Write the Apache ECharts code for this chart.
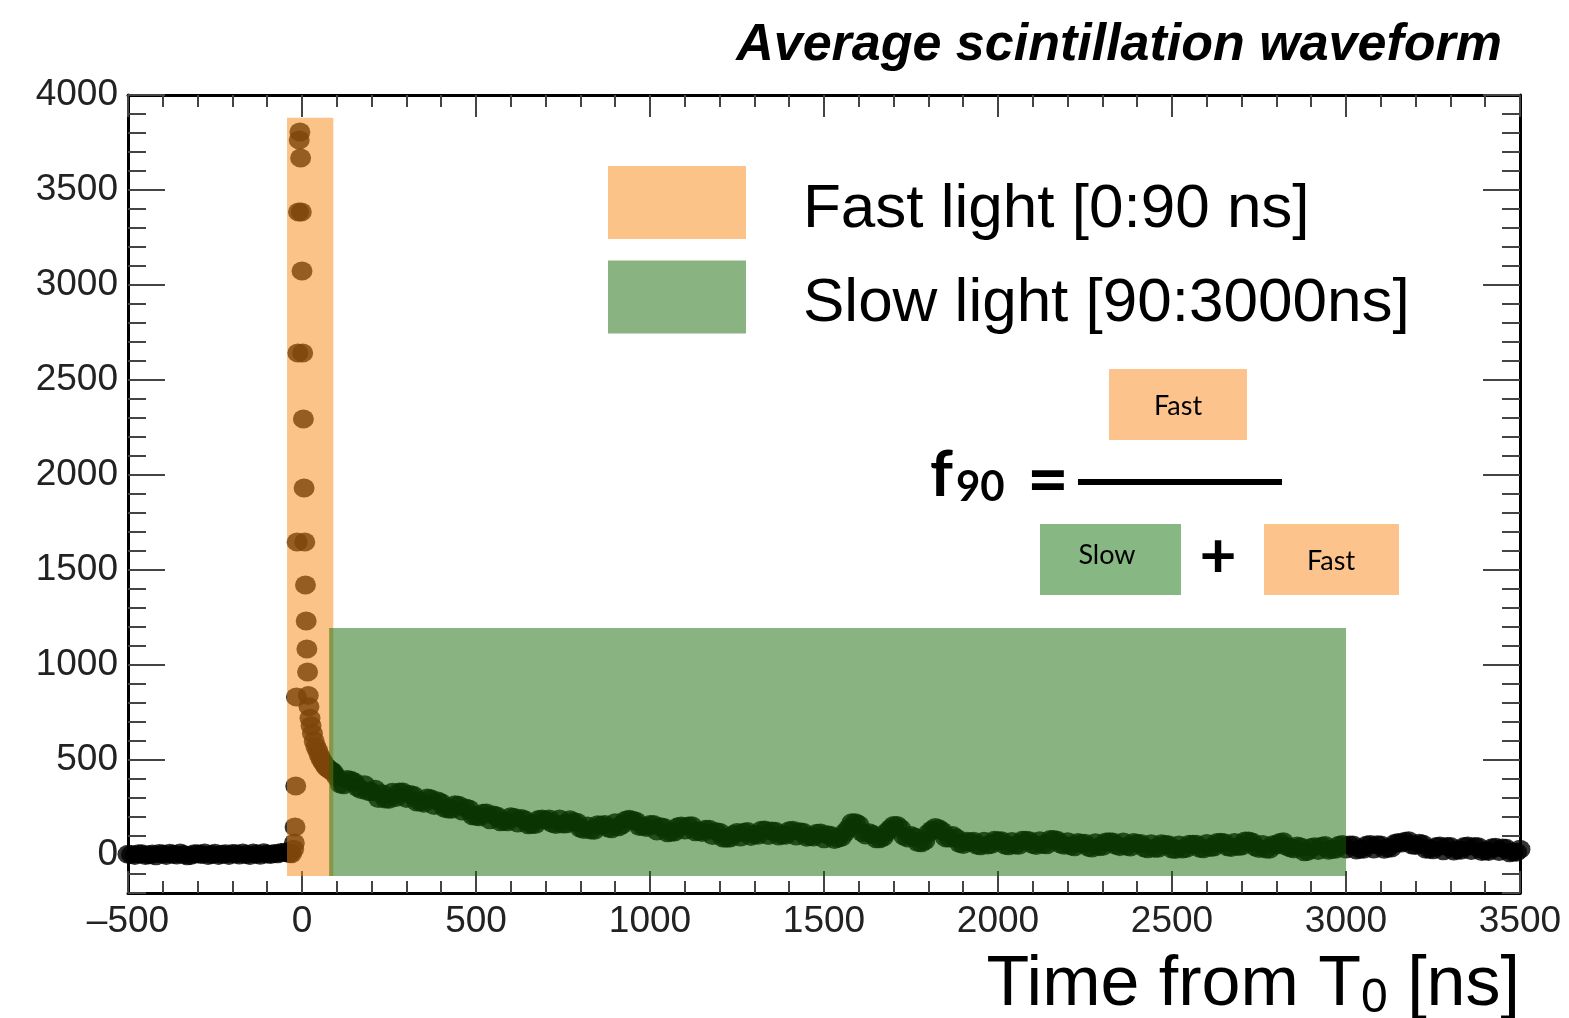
<!DOCTYPE html>
<html>
<head>
<meta charset="utf-8">
<script src="https://cdn.jsdelivr.net/npm/echarts@6/dist/echarts.min.js"></script>
<style>
  html, body { margin: 0; padding: 0; background: #fff; }
  #chart { width: 1569px; height: 1018px; }
</style>
</head>
<body>
<div id="chart"></div>
<script>
// waveform samples: [time ns, amplitude]
const baseline = [[-500,4],[-480,-2],[-460,6],[-440,1],[-420,-4],[-400,5],[-380,9],[-360,0],[-340,3],[-320,-3],
  [-300,7],[-280,11],[-260,2],[-240,-2],[-220,6],[-200,8],[-180,0],[-160,3],[-140,10],[-120,-1],[-100,5],[-80,8],
  [-60,13],[-40,10],[-30,6]];

const baselineOdd = [[-490,2],[-470,7],[-450,-3],[-430,5],[-410,8],[-390,-2],[-370,4],[-350,10],[-330,-4],[-310,6],
  [-290,3],[-270,-3],[-250,9],[-230,4],[-210,-2],[-190,7],[-170,10],[-150,-3],[-130,5],[-110,12],[-90,2],[-70,6],
  [-50,15],[-35,8]];

const fastPulse = [[-24,30],[-22,63],[-20,147],[-18,363],[-16,832],[-14,1647],[-12,2642],[-10,3384],[-8,3763],
  [-6,3805],[-4,3668],[-2,3384],[0,3074],[2,2642],[4,2295],[6,1932],[8,1647],[10,1421],[12,1232],[14,1084],[16,963],
  [18,840],[20,780],[23,720],[26,680],[30,640],[35,600],[40,570],[45,550],[50,525],[55,505],[60,490],[65,475],
  [70,462],[75,455],[80,448],[85,442],[90,435]];

const slowTail = [[100,410],[120,370],[140,393],[160,355],[180,370],[200,333],[220,297],[240,295],[260,330],[280,331],
  [300,298],[320,314],[340,280],[360,300],[380,261],[400,275],[420,242],[440,264],[460,232],[480,242],
  [500,204],[520,220],[540,186],[560,205],[580,179],[600,201],[620,168],[640,185],[660,160],[680,187],
  [700,183],[720,166],[740,190],[760,164],[780,175],[800,141],[820,153],[840,130],[860,157],[880,142],
  [900,170],[920,159],[940,188],[960,178],[980,151],[1000,160],[1020,126],[1040,145],[1060,120],[1080,149],
  [1100,132],[1120,154],[1140,125],[1160,135],[1180,103],[1200,120],[1220,88],[1240,108],[1260,95],[1280,124],
  [1300,108],[1320,130],[1340,102],[1360,125],[1380,107],[1400,128],[1420,100],[1440,120],[1460,98],[1480,115],
  [1500,85],[1520,103],[1540,88],[1560,118],[1580,170],[1600,160],[1620,105],[1640,108],[1660,86],[1680,120],
  [1700,155],[1720,140],[1740,90],[1760,95],[1780,64],[1800,115],[1820,145],[1840,125],[1860,90],[1880,90],
  [1900,55],[1920,68],[1940,51],[1960,73],[1980,55],[2000,75],[2020,53],[2040,71],[2060,51],[2080,77],
  [2100,55],[2120,75],[2140,54],[2160,82],[2180,58],[2200,70],[2220,43],[2240,60],[2260,40],[2280,64],
  [2300,45],[2320,70],[2340,50],[2360,68],[2380,42],[2400,60],[2420,38],[2440,59],[2460,36],[2480,55],
  [2500,32],[2520,53],[2540,34],[2560,56],[2580,36],[2600,60],[2620,42],[2640,67],[2660,43],[2680,66],
  [2700,47],[2720,74],[2740,42],[2760,55],[2780,30],[2800,52],[2820,70],[2840,38],[2860,48],[2880,17],
  [2900,40],[2920,24],[2940,50],[2960,30],[2980,51],[3000,32],[3020,53],[3040,32],[3060,53],[3080,32],
  [3100,53],[3120,37],[3140,60],[3160,63],[3180,75],[3200,50],[3220,58],[3240,32],[3260,45],[3280,22],
  [3300,45],[3320,27],[3340,45],[3360,24],[3380,43],[3400,22],[3420,38],[3440,18],[3460,35],[3480,16],[3500,30]];

const slowTailOdd = [[110,374],[130,398],[150,384],[170,344],[190,334],[210,346],[230,322],[250,293],[270,302],[290,331],
  [310,319],[330,279],[350,273],[370,296],[390,284],[410,246],[430,241],[450,262],[470,248],[490,206],
  [510,201],[530,221],[550,211],[570,175],[590,175],[610,198],[630,192],[650,159],[670,161],[690,189],
  [710,190],[730,161],[750,163],[770,186],[790,172],[810,134],[830,131],[850,159],[870,161],[890,138],
  [910,149],[930,183],[950,183],[970,150],[990,145],[1010,161],[1030,149],[1050,117],[1070,121],[1090,153],
  [1110,153],[1130,122],[1150,118],[1170,136],[1190,123],[1210,89],[1230,89],[1250,118],[1270,120],[1290,98],
  [1310,104],[1330,131],[1350,126],[1370,100],[1390,104],[1410,130],[1430,123],[1450,94],[1470,95],[1490,116],
  [1510,107],[1530,81],[1550,93],[1570,140],[1590,170],[1610,118],[1630,117],[1650,86],[1670,93],[1690,138],
  [1710,155],[1730,98],[1750,102],[1770,66],[1790,75],[1810,132],[1830,138],[1850,90],[1870,102],[1890,61],
  [1910,72],[1930,72],[1950,49],[1970,53],[1990,77],[2010,75],[2030,49],[2050,53],[2070,77],[2090,75],
  [2110,50],[2130,55],[2150,81],[2170,78],[2190,51],[2210,48],[2230,66],[2250,62],[2270,37],[2290,44],
  [2310,69],[2330,69],[2350,44],[2370,46],[2390,66],[2410,61],[2430,33],[2450,36],[2470,59],[2490,54],
  [2510,29],[2530,32],[2550,57],[2570,57],[2590,33],[2610,39],[2630,66],[2650,65],[2670,39],[2690,45],
  [2710,74],[2730,68],[2750,34],[2770,32],[2790,54],[2810,66],[2830,45],[2850,33],[2870,42],[2890,19],
  [2910,44],[2930,46],[2950,25],[2970,30],[2990,55],[3010,53],[3030,26],[3050,30],[3070,55],[3090,54],
  [3110,30],[3130,37],[3150,66],[3170,72],[3190,52],[3210,62],[3230,30],[3250,28],[3270,47],[3290,45],
  [3310,21],[3330,25],[3350,48],[3370,45],[3390,18],[3410,19],[3430,41],[3450,37],[3470,12],[3490,15]];

// integration windows: [tStart, tEnd, yLow, yHigh]
const fastWindow = [-43, 90, -110, 3880];
const slowWindow = [78, 3000, -110, 1195];

const yMajorTicks = [0, 500, 1000, 1500, 2000, 2500, 3000, 3500, 4000];
const legendNames = ['Fast light [0:90 ns]', 'Slow light [90:3000ns]'];

const FAST_COLOR = 'rgba(250,135,20,0.5)';
const SLOW_COLOR = 'rgba(20,105,5,0.5)';
const FONT = 'Liberation Sans';

const chart = echarts.init(document.getElementById('chart'));

function bandItem(color) {
    return function (params, api) {
        const p0 = api.coord([api.value(0), api.value(3)]);
        const p1 = api.coord([api.value(1), api.value(2)]);
        return {
            type: 'rect',
            shape: { x: p0[0], y: p0[1], width: p1[0] - p0[0], height: p1[1] - p0[1] },
            style: { fill: color }
        };
    };
}

const tickStyle = { color: '#444', width: 2 };
const lineStyle = { color: '#000', width: 3 };

function xAxisDef(pos, showLabel) {
    return {
        type: 'value', position: pos, min: -500, max: 3500, interval: 500,
        axisLine: { show: true, onZero: false, lineStyle: lineStyle },
        axisTick: { show: true, inside: true, length: 22, lineStyle: tickStyle },
        minorTick: { show: true, splitNumber: 5, length: 12, lineStyle: tickStyle },
        splitLine: { show: false },
        minorSplitLine: { show: false },
        axisLabel: {
            show: showLabel, fontSize: 37, fontFamily: FONT, color: '#222', margin: 10,
            formatter: v => v < 0 ? '\u2013' + Math.abs(v) : String(v)
        }
    };
}

function yAxisMajor(pos, showLabel) {
    return {
        type: 'value', position: pos, min: -200, max: 4000,
        axisLine: { show: true, onZero: false, lineStyle: lineStyle },
        axisTick: { show: true, inside: true, length: 37, customValues: yMajorTicks, lineStyle: tickStyle },
        splitLine: { show: false },
        axisLabel: {
            show: showLabel, customValues: yMajorTicks, fontSize: 37, fontFamily: FONT,
            color: '#222', margin: 10, formatter: v => String(v)
        }
    };
}

function yAxisMinor(pos) {
    return {
        type: 'value', position: pos, min: -200, max: 4000, interval: 100,
        axisLine: { show: false, onZero: false },
        axisTick: { show: true, inside: true, length: 18, lineStyle: tickStyle },
        splitLine: { show: false },
        axisLabel: { show: false }
    };
}

const options = {
    backgroundColor: '#fff',
    animation: false,
    title: {
        text: 'Average scintillation waveform',
        right: 62, top: 15,
        textStyle: { fontFamily: FONT, fontSize: 52, fontStyle: 'italic', fontWeight: 'bold', color: '#000' }
    },
    legend: {
        data: legendNames,
        orient: 'vertical', left: 608, top: 166, padding: 0,
        itemWidth: 138, itemHeight: 73, itemGap: 20, icon: 'rect',
        selectedMode: false,
        formatter: name => '{t|' + name + '}',
        textStyle: {
            fontFamily: FONT, fontSize: 62, color: '#000',
            rich: { t: { fontFamily: FONT, fontSize: 62, color: '#000', padding: [14, 0, 0, 52] } }
        }
    },
    grid: { left: 128, right: 49, top: 95, bottom: 125, outerBoundsMode: 'none', containLabel: false },
    xAxis: [
        Object.assign(xAxisDef('bottom', true), {
            name: 'Time from T{sub|0} [ns]',
            nameLocation: 'end', nameGap: 0,
            nameTextStyle: {
                fontFamily: FONT, fontSize: 70, color: '#000',
                align: 'right', verticalAlign: 'top', padding: [56, 0, 0, 0],
                rich: { sub: { fontFamily: FONT, fontSize: 48, color: '#000', padding: [26, 0, 0, 0] } }
            }
        }),
        xAxisDef('top', false)
    ],
    yAxis: [
        yAxisMajor('left', true),
        yAxisMinor('left'),
        yAxisMajor('right', false),
        yAxisMinor('right')
    ],
    series: [
        {
            name: 'waveform', type: 'scatter', z: 2,
            symbol: 'circle', symbolSize: [21, 19],
            itemStyle: { color: '#000' },
            data: baseline.concat(baselineOdd, fastPulse, slowTail, slowTailOdd)
        },
        {
            name: legendNames[0], type: 'custom', z: 5,
            itemStyle: { color: FAST_COLOR },
            encode: { x: [0, 1], y: [2, 3] },
            renderItem: bandItem(FAST_COLOR),
            data: [fastWindow]
        },
        {
            name: legendNames[1], type: 'custom', z: 5,
            itemStyle: { color: SLOW_COLOR },
            encode: { x: [0, 1], y: [2, 3] },
            renderItem: bandItem(SLOW_COLOR),
            data: [slowWindow]
        }
    ],
    graphic: [
        { type: 'text', left: 930, top: 443, z: 20, style: { text: 'f', font: 'bold 64px Lato', fill: '#000' } },
        { type: 'text', left: 956, top: 466, z: 20, style: { text: '90', font: 'bold 42px Lato', fill: '#000' } },
        { type: 'text', left: 1027, top: 446, z: 20, style: { text: '=', font: 'bold 72px Lato', fill: '#000' } },
        { type: 'rect', left: 1078, top: 479, z: 20, shape: { width: 204, height: 6 }, style: { fill: '#000' } },
        { type: 'rect', left: 1109, top: 369, z: 20, shape: { width: 138, height: 71 }, style: { fill: '#fcc38c' } },
        { type: 'text', x: 1178, y: 406, z: 21, style: { text: 'Fast', font: '27px Lato', fill: '#000', align: 'center', verticalAlign: 'middle' } },
        { type: 'rect', left: 1040, top: 524, z: 20, shape: { width: 141, height: 71 }, style: { fill: '#87b782' } },
        { type: 'text', x: 1107, y: 555, z: 21, style: { text: 'Slow', font: '27px Lato', fill: '#000', align: 'center', verticalAlign: 'middle' } },
        { type: 'text', x: 1218, y: 556, z: 21, style: { text: '+', font: 'bold 64px Lato', fill: '#000', align: 'center', verticalAlign: 'middle' } },
        { type: 'rect', left: 1264, top: 524, z: 20, shape: { width: 135, height: 71 }, style: { fill: '#fcc38c' } },
        { type: 'text', x: 1331, y: 561, z: 21, style: { text: 'Fast', font: '27px Lato', fill: '#000', align: 'center', verticalAlign: 'middle' } }
    ]
};

chart.setOption(options);
</script>
</body>
</html>
